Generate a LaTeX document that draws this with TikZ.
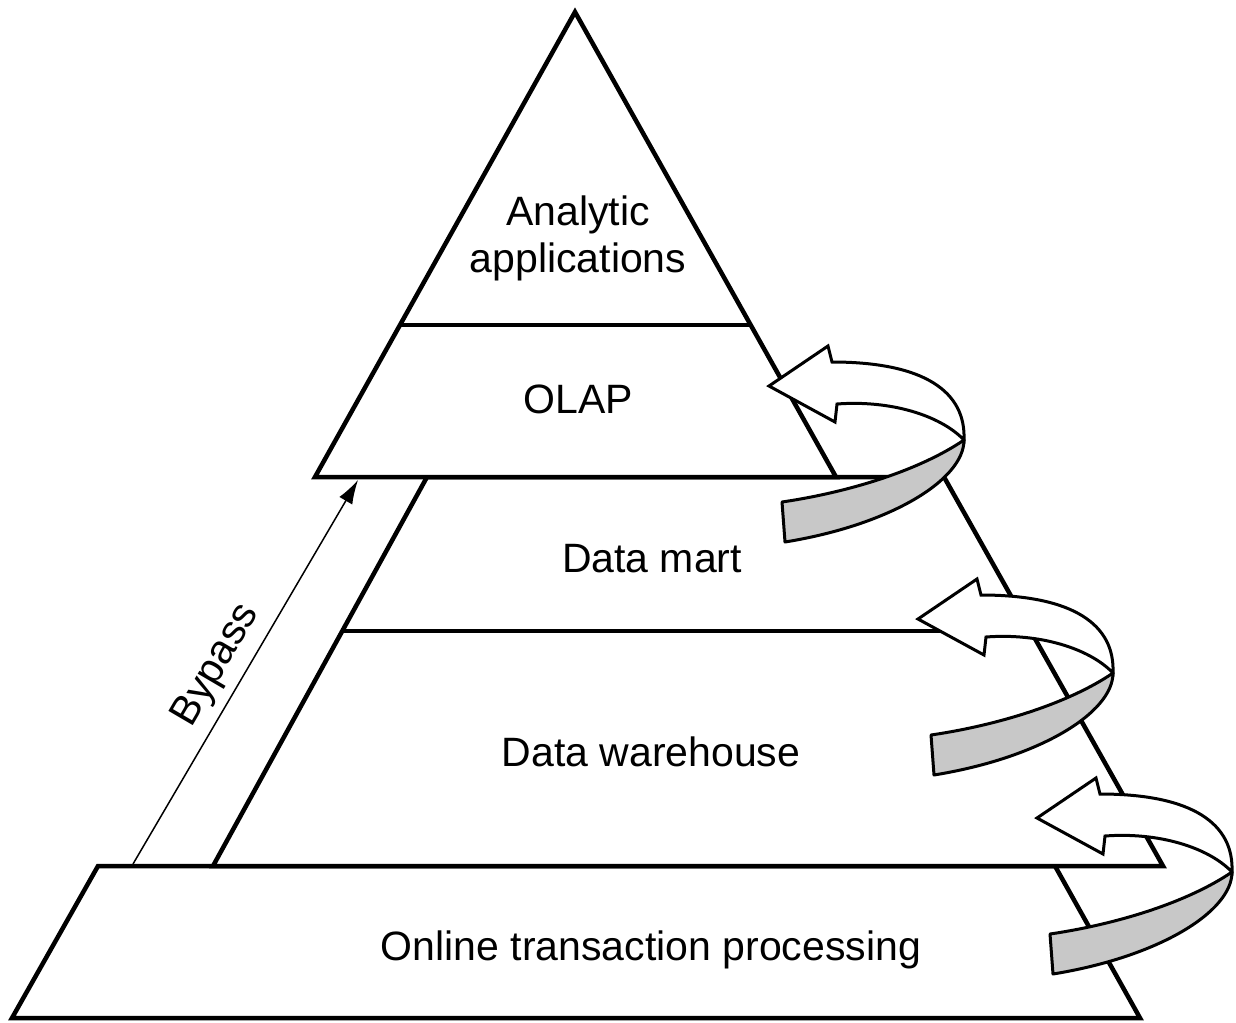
\documentclass[tikz,border=0pt]{standalone}
\usepackage{fontspec}
\setmainfont{Liberation Sans}
\usetikzlibrary{arrows.meta}
\definecolor{bandgray}{RGB}{200,200,200}

\tikzset{
  layer/.style={draw=black, line width=4.5pt, fill=white, line join=miter},
  divider/.style={draw=black, line width=4.5pt},
  lbl/.style={font=\fontsize{41}{47}\selectfont, inner sep=0pt, anchor=base},
  bypassline/.style={draw=black, line width=1.5pt, -{Latex[length=24pt,width=15pt]}},
  ribbonback/.style={draw=black, line width=3pt, fill=bandgray, line join=round},
  ribbonfront/.style={draw=black, line width=3pt, fill=white, line join=miter},
  % a ribbon arrow that loops round the pyramid edge; origin = arrow tip
  turnarrow/.pic={
    \path[ribbonback] (13,116) .. controls (81,106) and (151,84) .. (195,54)
      .. controls (195,94) and (121,139) .. (16,156) -- cycle;
    \path[ribbonfront] (195,54) .. controls (197,6) and (156,-24) .. (63,-24)
      -- (59,-40) -- (0,0) -- (66,36) -- (68,18)
      .. controls (121,14) and (171,29) .. (195,54) -- cycle;
  }
}

\begin{document}
\begin{tikzpicture}[x=1pt,y=-1pt]
  \useasboundingbox (0,0) rectangle (1236,1022);

  % bottom slab: online transaction processing
  \path[layer] (98,866) -- (1055,866) -- (1140,1018) -- (12,1018) -- cycle;
  % middle slab, shifted to the right: data mart and data warehouse
  \path[layer] (427,477) -- (944,477) -- (1163,866) -- (213,866) -- cycle;
  \draw[divider] (342,631) -- (1031,631);
  % top of the pyramid: OLAP and analytic applications
  \path[layer] (575,12) -- (836,477) -- (315,477) -- cycle;
  \draw[divider] (400,325) -- (750,325);

  % bypass from transaction processing straight up to OLAP
  \coordinate (bypassFrom) at (133,864);
  \coordinate (bypassTo) at (358,480);
  \draw[bypassline] (bypassFrom) -- node[sloped, pos=0.48, above,
    font=\fontsize{41}{47}\selectfont, inner sep=9pt] (bypassLbl) {Bypass} (bypassTo);

  % feedback ribbons between the layers
  \pic (turnOlap) at (769,386) {turnarrow};
  \pic (turnMart) at (918,619) {turnarrow};
  \pic (turnWh) at (1037,818) {turnarrow};

  % layer labels
  \node[lbl] (analyticA) at (578,225) {Analytic};
  \node[lbl] (analyticB) at (578,272) {applications};
  \node[lbl] (olap) at (578,413) {OLAP};
  \node[lbl] (mart) at (652,572) {Data mart};
  \node[lbl] (warehouse) at (651,766) {Data warehouse};
  \node[lbl] (oltp) at (651,960) {Online transaction processing};
\end{tikzpicture}
\end{document}
